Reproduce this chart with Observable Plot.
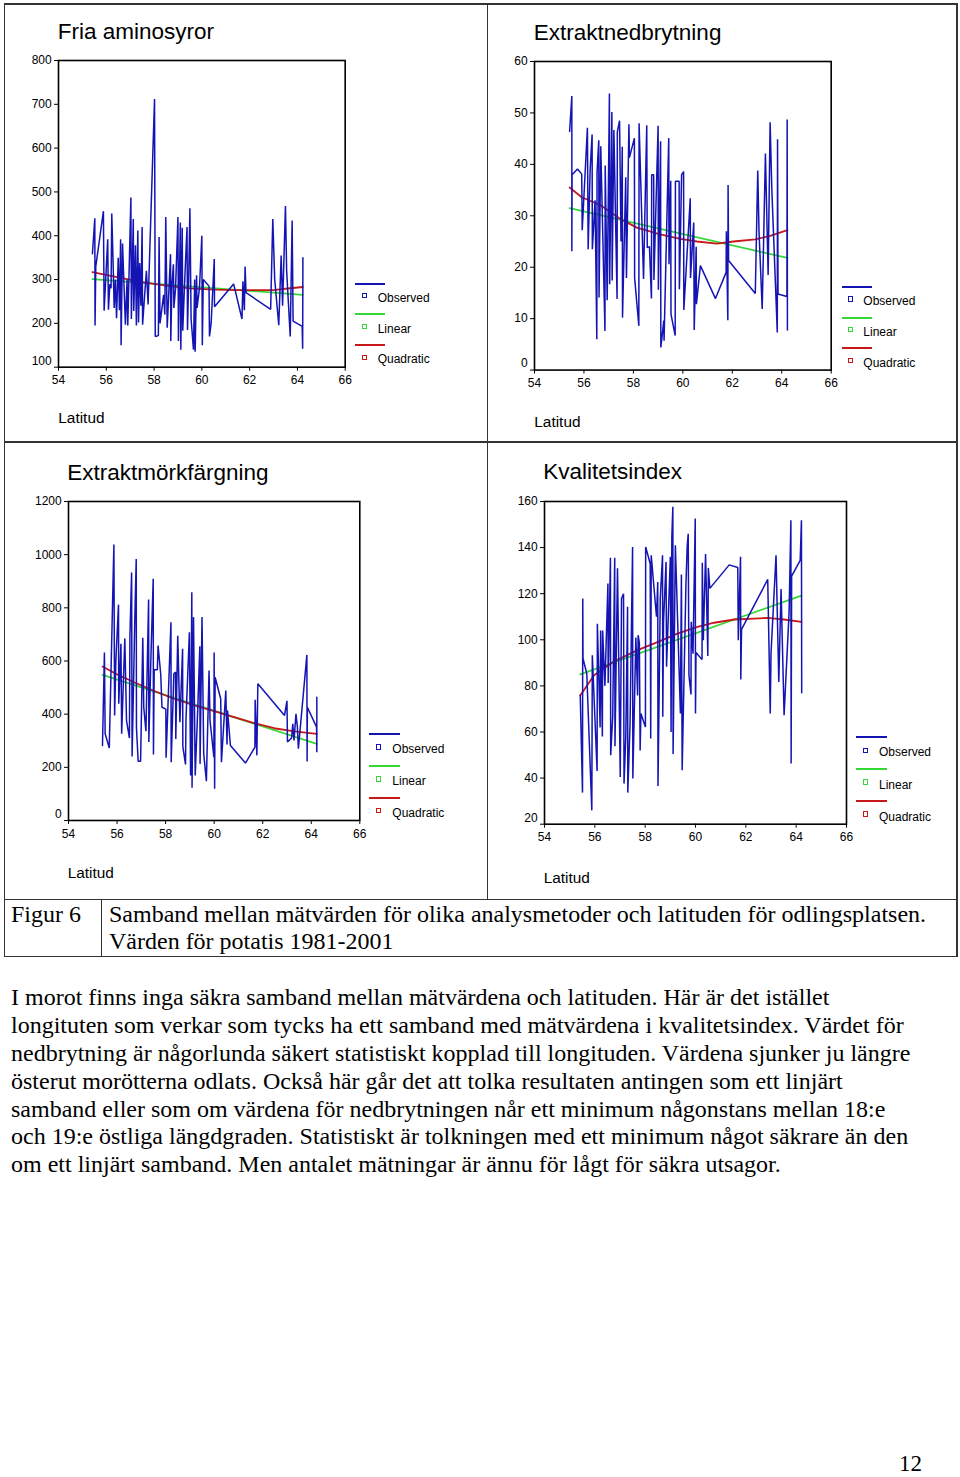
<!DOCTYPE html>
<html>
<head>
<meta charset="utf-8">
<script src="https://cdn.jsdelivr.net/npm/d3@7"></script>
<script src="https://cdn.jsdelivr.net/npm/@observablehq/plot@0.6"></script>
<style>
  html, body { margin: 0; padding: 0; background: #fff; }
  #page { position: relative; width: 960px; height: 1477px; overflow: hidden; background: #fff; }
  .t { position: absolute; white-space: nowrap; color: #000; }
  .ln { position: absolute; background: #333; }
  .chart { position: absolute; }
  .chart svg { overflow: visible; }
</style>
</head>
<body>
<div id="page"></div>
<script>
// ---------- DATA ----------
const xTicks = [54, 56, 58, 60, 62, 64, 66];

// Fria aminosyror
const aminoYTicks = [100, 200, 300, 400, 500, 600, 700, 800];
const aminoObserved = [[55.42,359],[55.52,440],[55.53,195],[55.56,330],[55.88,456],[55.91,229],[56.06,392],[56.09,231],[56.15,290],[56.2,280],[56.23,451],[56.28,350],[56.33,235],[56.38,300],[56.43,212],[56.5,350],[56.55,230],[56.6,392],[56.62,150],[56.68,382],[56.8,197],[56.87,300],[56.9,195],[57.03,487],[57.05,210],[57.13,438],[57.15,228],[57.22,378],[57.26,195],[57.32,412],[57.35,202],[57.4,338],[57.45,240],[57.5,420],[57.52,197],[57.6,260],[57.68,320],[57.75,243],[58.02,712],[58.05,170],[58.18,172],[58.21,397],[58.25,200],[58.4,265],[58.45,220],[58.49,443],[58.55,190],[58.69,358],[58.7,160],[58.75,290],[58.81,335],[58.83,235],[58.9,280],[59.0,443],[59.02,160],[59.1,430],[59.12,140],[59.18,418],[59.2,183],[59.3,320],[59.38,420],[59.4,185],[59.45,300],[59.5,463],[59.55,210],[59.65,140],[59.7,300],[59.72,135],[59.78,310],[59.8,235],[59.9,280],[60.0,400],[60.02,150],[60.06,300],[60.3,285],[60.32,170],[60.39,201],[60.52,347],[60.53,238],[61.33,290],[61.68,210],[61.72,296],[61.78,230],[61.81,330],[61.85,270],[62.88,232],[62.97,438],[63.05,300],[63.22,196],[63.32,355],[63.38,240],[63.5,468],[63.55,320],[63.7,170],[63.78,435],[63.82,205],[64.2,193],[64.22,142],[64.23,350]];
const aminoLinear = [[55.42,301],[64.23,265]];
const aminoQuadratic = [[55.42,317],[56.5,305],[57.5,294],[58.5,286],[59.5,280],[60.5,277],[61.5,276],[62.5,276],[63.0,276],[63.5,279],[64.23,283]];

// Extraktnedbrytning
const nedYTicks = [0, 10, 20, 30, 40, 50, 60];
const nedObserved = [[55.42,46.4],[55.51,53.3],[55.51,23.1],[55.52,38.0],[55.74,39.1],[55.91,38.1],[55.93,27.2],[56.14,47.1],[56.17,23.5],[56.25,38.9],[56.33,45.8],[56.34,23.5],[56.45,33],[56.52,6.0],[56.53,38.4],[56.6,44.7],[56.61,14.1],[56.68,43.5],[56.85,7.6],[56.86,39.8],[56.94,13.6],[57.03,53.8],[57.04,16.7],[57.13,50.2],[57.14,17.4],[57.21,46.7],[57.34,13.8],[57.35,46.3],[57.44,48.5],[57.5,25],[57.55,43.4],[57.56,10.2],[57.69,37.5],[57.72,17.9],[57.82,47.8],[57.84,41.3],[58.04,45.1],[58.05,17.9],[58.22,8.6],[58.23,48.0],[58.41,17.7],[58.54,47.6],[58.56,23.8],[58.65,24],[58.73,13.9],[58.74,38.0],[58.82,38],[58.83,17.5],[59.0,47.5],[59.01,15.6],[59.1,44.5],[59.11,4.4],[59.23,9.6],[59.24,5.7],[59.43,45.1],[59.44,20.6],[59.51,36.8],[59.52,10.9],[59.69,6.7],[59.7,36.7],[59.85,36.7],[59.86,15.7],[59.95,38.0],[60.03,38.6],[60.04,11.7],[60.3,33.4],[60.31,17.9],[60.44,28.7],[60.46,7.8],[60.54,24.0],[60.55,12.8],[60.71,20.3],[61.32,13.9],[61.75,19.0],[61.76,27.0],[61.82,9.7],[61.83,36.0],[61.85,21.3],[62.93,14.9],[63.03,38.8],[63.08,27.1],[63.21,11.9],[63.34,42.1],[63.45,18.5],[63.53,48.2],[63.6,35],[63.82,7.3],[63.83,44.9],[63.85,14.8],[64.21,14.3],[64.22,48.7],[64.23,7.8]];
const nedLinear = [[55.42,31.5],[64.23,21.8]];
const nedQuadratic = [[55.42,35.5],[55.91,33.6],[56.66,32.1],[57.47,29.4],[58.14,27.7],[59.08,26.4],[59.9,25.5],[60.57,25.0],[61.38,24.6],[62.05,25.0],[62.93,25.4],[63.53,26.1],[64.23,27.2]];

// Extraktmörkfärgning
const morkYTicks = [0, 200, 400, 600, 800, 1000, 1200];
const morkObserved = [[55.4,282],[55.48,632],[55.51,326],[55.68,273],[55.87,1038],[55.9,395],[55.95,600],[56.06,812],[56.07,439],[56.16,665],[56.19,326],[56.32,685],[56.39,376],[56.51,310],[56.53,692],[56.6,933],[56.62,241],[56.73,752],[56.79,984],[56.8,349],[56.87,223],[56.97,223],[57.06,687],[57.1,426],[57.19,336],[57.3,831],[57.31,295],[57.39,596],[57.49,909],[57.5,248],[57.53,567],[57.66,567],[57.69,658],[57.8,549],[57.85,426],[58.01,419],[58.02,236],[58.22,746],[58.23,219],[58.34,552],[58.41,558],[58.42,307],[58.5,695],[58.59,370],[58.7,646],[58.71,278],[58.82,211],[58.84,380],[58.98,708],[59.03,169],[59.08,859],[59.09,123],[59.15,765],[59.22,169],[59.33,433],[59.41,655],[59.42,213],[59.5,765],[59.57,251],[59.68,148],[59.79,564],[59.83,376],[59.99,238],[60.0,632],[60.02,119],[60.04,539],[60.27,458],[60.3,219],[60.48,489],[60.53,286],[60.55,414],[60.67,282],[61.29,216],[61.68,276],[61.69,454],[61.76,245],[61.8,514],[62.9,395],[63.0,450],[63.02,295],[63.19,310],[63.24,364],[63.29,301],[63.37,401],[63.43,351],[63.47,270],[63.82,623],[63.83,222],[63.84,426],[64.22,351],[64.23,257],[64.23,464]];
const morkLinear = [[55.4,548],[64.23,288]];
const morkQuadratic = [[55.4,579],[55.95,552],[56.7,520],[57.53,487],[58.35,458],[59.18,433],[60.0,411],[60.82,389],[61.65,366],[62.47,347],[63.3,335],[64.23,326]];

// Kvalitetsindex
const kvalYTicks = [20, 40, 60, 80, 100, 120, 140, 160];
const kvalObserved = [[55.42,76],[55.51,33.7],[55.52,117.9],[55.53,91.9],[55.68,85.4],[55.88,26],[55.9,93.3],[56.09,43.1],[56.1,107],[56.21,62],[56.23,104],[56.3,58],[56.31,104],[56.4,80],[56.52,124.4],[56.53,81.3],[56.62,135.6],[56.63,49.9],[56.71,66.6],[56.79,135.6],[56.8,53.8],[56.9,131],[57.01,40.5],[57.06,117.9],[57.14,120],[57.16,37.6],[57.23,57.8],[57.3,114.3],[57.31,33.7],[57.4,63.7],[57.5,140.3],[57.51,39.8],[57.63,101],[57.7,75.8],[57.72,102],[57.77,98.7],[57.8,52],[57.83,68],[58.01,62.2],[58.02,140.3],[58.2,133],[58.22,57.2],[58.24,136.7],[58.45,110],[58.5,125.1],[58.51,36.6],[58.6,117.9],[58.69,136.7],[58.7,66.6],[58.73,107.8],[58.83,133.8],[58.85,88.3],[59.0,136],[59.03,60],[59.06,144.7],[59.1,157.7],[59.11,50.4],[59.2,141],[59.4,68],[59.44,128.3],[59.47,43.4],[59.62,124],[59.67,140.6],[59.71,146],[59.74,84.6],[59.82,76.3],[59.83,107.8],[59.9,94],[59.99,152.6],[60.0,68],[60.02,94.5],[60.26,91.4],[60.27,133.4],[60.31,99.8],[60.4,137.2],[60.49,93],[60.51,131.2],[60.57,122.3],[61.34,132.5],[61.68,131.4],[61.7,99.8],[61.79,136],[61.8,82.8],[61.83,104.5],[62.87,126.2],[62.97,68],[63.0,94],[63.2,136.7],[63.31,81.7],[63.4,122],[63.52,67.3],[63.72,112.1],[63.79,151.9],[63.8,46.3],[63.82,127.6],[64.16,134.5],[64.21,151.9],[64.22,77]];
const kvalLinear = [[55.42,85],[64.21,119.2]];
const kvalQuadratic = [[55.42,75.8],[55.97,84.6],[56.77,90.7],[57.7,95.5],[58.49,99],[59.28,102.7],[60.08,105.6],[60.74,107.4],[61.54,108.8],[62.33,109.2],[62.86,109.5],[63.52,108.8],[64.21,107.8]];

const legendLabels = ["Observed", "Linear", "Quadratic"];
const xLabel = "Latitud";

const captionLabel = "Figur 6";
const captionLines = [
  "Samband mellan mätvärden för olika analysmetoder och latituden för odlingsplatsen.",
  "Värden för potatis 1981-2001"
];
const bodyLines = [
  "I morot finns inga säkra samband mellan mätvärdena och latituden. Här är det istället",
  "longituten som verkar som tycks ha ett samband med mätvärdena i kvalitetsindex. Värdet för",
  "nedbrytning är någorlunda säkert statistiskt kopplad till longituden. Värdena sjunker ju längre",
  "österut morötterna odlats. Också här går det att tolka resultaten antingen som ett linjärt",
  "samband eller som om värdena för nedbrytningen når ett minimum någonstans mellan 18:e",
  "och 19:e östliga längdgraden. Statistiskt är tolkningen med ett minimum något säkrare än den",
  "om ett linjärt samband. Men antalet mätningar är ännu för lågt för säkra utsagor."
];
const pageNumber = "12";

// ---------- LAYOUT ----------
const page = document.getElementById("page");
const SANS = "'Liberation Sans', Arial, sans-serif";
const SERIF = "'Liberation Serif', 'Times New Roman', serif";
const cObs = "#1414b4", cLin = "#36d836", cQuad = "#c81818";

function text(str, x, baseline, size, family, asc, sy) {
  const d = document.createElement("div");
  d.className = "t";
  d.textContent = str;
  d.style.left = x + "px";
  d.style.top = (baseline - asc * size) + "px";
  d.style.fontSize = size + "px";
  d.style.lineHeight = size + "px";
  d.style.fontFamily = family;
  if (sy) {
    d.style.transformOrigin = `0 ${asc * size}px`;
    d.style.transform = `scale(1, ${sy})`;
  }
  page.appendChild(d);
  return d;
}
function sansAt(str, x, capCenter, size) { // place by cap center
  return text(str, x, capCenter + 0.358 * size, size, SANS, 0.8465);
}
function serifAt(str, x, baseline, size, sy) {
  return text(str, x, baseline, size, SERIF, 0.8375, sy);
}
function rect(x, y, w, h, bg) {
  const d = document.createElement("div");
  d.className = "ln";
  d.style.left = x + "px"; d.style.top = y + "px";
  d.style.width = w + "px"; d.style.height = h + "px";
  if (bg) d.style.background = bg;
  page.appendChild(d);
  return d;
}
function box(cx, cy, color) {
  const d = document.createElement("div");
  d.style.position = "absolute";
  d.style.left = (cx - 3) + "px"; d.style.top = (cy - 3) + "px";
  d.style.width = "3.4px"; d.style.height = "3.4px";
  d.style.border = "1.3px solid " + color;
  page.appendChild(d);
}

// table grid
const LW = 1.5;
rect(4, 3, 953, LW);
rect(4, 441, 953, LW);
rect(4, 898.5, 953, LW);
rect(4, 955.5, 953, LW);
rect(3.5, 3, LW, 954);
rect(956, 3, LW, 954);
rect(486.5, 3, LW, 897);
rect(100.5, 898.5, LW, 58);

function chart(cfg) {
  const { obs, lin, quad, yDomain, yTicks, frame, title, titleY, legend, latY } = cfg;
  const [x0, y0, x1, y1] = frame;
  const mL = 50, mT = 12, mR = 14, mB = 30;
  const p = Plot.plot({
    width: x1 - x0 + mL + mR,
    height: y1 - y0 + mT + mB,
    marginLeft: mL, marginTop: mT, marginRight: mR, marginBottom: mB,
    x: { domain: [54, 66] },
    y: { domain: yDomain },
    style: { fontFamily: SANS, fontSize: "12px", color: "#000", background: "transparent", overflow: "visible" },
    marks: [
      Plot.line(lin, { x: d => d[0], y: d => d[1], stroke: cLin, strokeWidth: 1.8 }),
      Plot.line(quad, { x: d => d[0], y: d => d[1], stroke: cQuad, strokeWidth: 1.8 }),
      Plot.line(obs, { x: d => d[0], y: d => d[1], stroke: cObs, strokeWidth: 1.5, strokeLinejoin: "miter" }),
      Plot.axisX({ ticks: xTicks, tickSize: 4, tickPadding: 4.5, label: null, fontSize: 12, tickFormat: d => String(d) }),
      Plot.axisY({ ticks: yTicks, tickSize: 4, tickPadding: 2.8, label: null, fontSize: 12,
        tickFormat: d => d === yDomain[0] ? "" : String(d) }),
      Plot.text([yDomain[0]], { y: d => d, frameAnchor: "left", dx: -6.8, dy: -6.5, textAnchor: "end",
        text: d => String(d), fontSize: 12 }),
      Plot.frame({ stroke: "#000", strokeWidth: 1.6 })
    ]
  });
  const wrap = document.createElement("div");
  wrap.className = "chart";
  wrap.style.left = (x0 - mL) + "px";
  wrap.style.top = (y0 - mT) + "px";
  wrap.appendChild(p);
  page.appendChild(wrap);

  sansAt(title, x0 - 0.5, titleY, 22.5);
  sansAt(xLabel, x0, latY, 15.4);
  // legend
  const colors = [cObs, cLin, cQuad];
  legend.rows.forEach((r, i) => {
    rect(legend.lx0, r.line - 0.9, legend.lx1 - legend.lx0, 1.8, colors[i]);
    box(legend.mx, r.marker, colors[i]);
    sansAt(legendLabels[i], legend.tx, r.text, 12);
  });
}

chart({
  obs: aminoObserved, lin: aminoLinear, quad: aminoQuadratic,
  yDomain: [100, 800], yTicks: aminoYTicks,
  frame: [58.3, 60, 345, 366.7],
  title: "Fria aminosyror", titleY: 32, latY: 417.5,
  legend: { lx0: 355, lx1: 385, mx: 364.7, tx: 377.7,
    rows: [{ line: 284.3, marker: 296, text: 298.3 }, { line: 314.3, marker: 327, text: 328.7 }, { line: 345, marker: 357.7, text: 359.3 }] }
});
chart({
  obs: nedObserved, lin: nedLinear, quad: nedQuadratic,
  yDomain: [0, 60], yTicks: nedYTicks,
  frame: [534.3, 60.7, 831, 369.3],
  title: "Extraktnedbrytning", titleY: 33, latY: 421.3,
  legend: { lx0: 841.7, lx1: 871.7, mx: 850.7, tx: 863.3,
    rows: [{ line: 286.7, marker: 299.3, text: 300.7 }, { line: 317.7, marker: 330, text: 331.7 }, { line: 348.3, marker: 360.7, text: 362.7 }] }
});
chart({
  obs: morkObserved, lin: morkLinear, quad: morkQuadratic,
  yDomain: [0, 1200], yTicks: morkYTicks,
  frame: [67.7, 501, 359, 820],
  title: "Extraktmörkfärgning", titleY: 473, latY: 873,
  legend: { lx0: 369, lx1: 400, mx: 379, tx: 392.3,
    rows: [{ line: 734.3, marker: 747.3, text: 749.3 }, { line: 766, marker: 779.3, text: 781 }, { line: 797.7, marker: 810.7, text: 812.7 }] }
});
chart({
  obs: kvalObserved, lin: kvalLinear, quad: kvalQuadratic,
  yDomain: [20, 160], yTicks: kvalYTicks,
  frame: [543.7, 501.3, 845.7, 824],
  title: "Kvalitetsindex", titleY: 472, latY: 878,
  legend: { lx0: 856, lx1: 887.3, mx: 865.7, tx: 879,
    rows: [{ line: 737.3, marker: 750.7, text: 752.3 }, { line: 769.3, marker: 782.3, text: 785 }, { line: 801, marker: 814.3, text: 816.7 }] }
});

// caption
const FS = 24, SY = 0.95;
serifAt(captionLabel, 11, 922, FS, SY);
serifAt(captionLines[0], 109, 922, FS, SY);
serifAt(captionLines[1], 109, 949.5, FS, SY);

// body text
bodyLines.forEach((l, i) => serifAt(l, 11, 1005.5 + i * 27.8, FS, SY));

// page number
serifAt(pageNumber, 899, 1471, 23, 0.97);
</script>
</body>
</html>
